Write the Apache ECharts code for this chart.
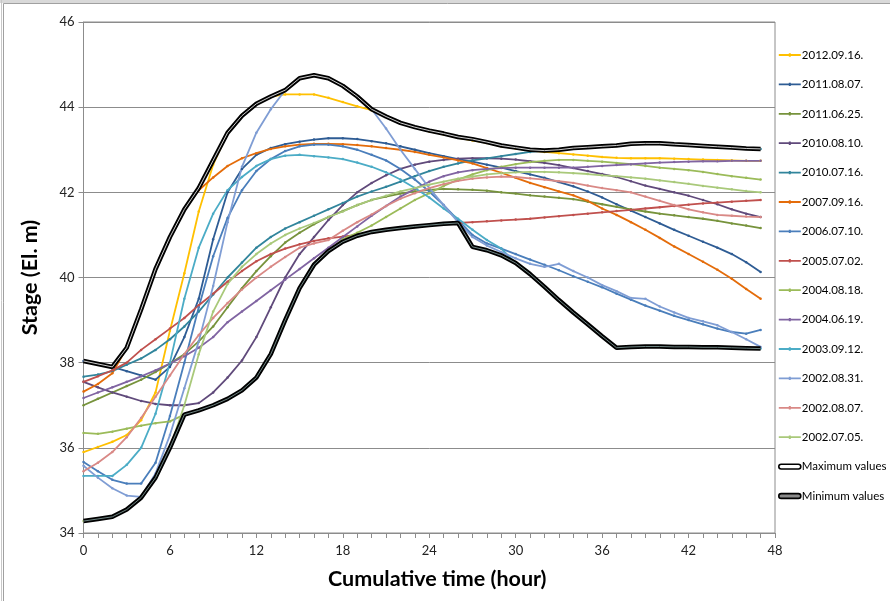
<!DOCTYPE html>
<html>
<head>
<meta charset="utf-8">
<script src="https://cdn.jsdelivr.net/npm/echarts@6/dist/echarts.min.js"></script>
<style>
  html, body { margin: 0; padding: 0; background: #fff; }
  #chart { width: 890px; height: 601px; }
</style>
</head>
<body>
<div id="chart"></div>
<script>
    // hours since start of each event
    const hours = [0, 1, 2, 3, 4, 5, 6, 7, 8, 9, 10, 11, 12, 13, 14, 15, 16, 17, 18, 19, 20, 21, 22, 23,
        24, 25, 26, 27, 28, 29, 30, 31, 32, 33, 34, 35, 36, 37, 38, 39, 40, 41, 42, 43, 44, 45, 46, 47];
    const xTicks = [0, 6, 12, 18, 24, 30, 36, 42, 48];
    const yTicks = [34, 36, 38, 40, 42, 44, 46];

    const names = ['2012.09.16.', '2011.08.07.', '2011.06.25.', '2010.08.10.', '2010.07.16.', '2007.09.16.',
        '2006.07.10.', '2005.07.02.', '2004.08.18.', '2004.06.19.', '2003.09.12.', '2002.08.31.',
        '2002.08.07.', '2002.07.05.'];
    const colors = ['#FFC000', '#2E5C94', '#77933C', '#604A7B', '#31859C', '#E46C0A',
        '#4A7EBB', '#C0504D', '#9BBB59', '#8064A2', '#4BACC6', '#7F9DD4',
        '#D98986', '#A9C97A'];

    const s20120916 = [35.9, 36.02, 36.14, 36.3, 36.65, 37.3, 38.75, 40.1, 41.55, 42.65, 43.4, 43.82, 44.08, 44.25, 44.3, 44.3,
        44.3, 44.22, 44.12, 44.02, 43.93, 43.78, 43.63, 43.53, 43.43, 43.36, 43.28, 43.22, 43.16, 43.08, 43.03, 42.98,
        42.95, 42.92, 42.89, 42.86, 42.83, 42.81, 42.8, 42.8, 42.8, 42.79, 42.78, 42.77, 42.76, 42.75, 42.74, 42.74];
    const s20110807 = [38.04, 37.97, 37.9, 37.8, 37.7, 37.6, 37.9, 38.6, 39.5, 40.9, 42.0, 42.55, 42.88, 43.04, 43.13, 43.19,
        43.24, 43.27, 43.27, 43.25, 43.2, 43.15, 43.08, 43.0, 42.92, 42.85, 42.78, 42.72, 42.65, 42.58, 42.5, 42.42,
        42.34, 42.24, 42.14, 42.02, 41.88, 41.72, 41.57, 41.42, 41.27, 41.12, 40.98, 40.84, 40.7, 40.55, 40.36, 40.13];
    const s20110625 = [37.0, 37.15, 37.3, 37.45, 37.6, 37.78, 37.98, 38.2, 38.5, 38.85, 39.3, 39.75, 40.15, 40.5, 40.82, 41.05,
        41.25, 41.42, 41.56, 41.7, 41.82, 41.9, 41.97, 42.02, 42.06, 42.08, 42.07, 42.06, 42.04, 42.0, 41.97, 41.93,
        41.9, 41.87, 41.84, 41.78, 41.72, 41.66, 41.6, 41.55, 41.5, 41.46, 41.42, 41.38, 41.33, 41.27, 41.22, 41.16];
    const s20100810 = [37.55, 37.42, 37.3, 37.2, 37.1, 37.03, 37.0, 37.0, 37.05, 37.3, 37.65, 38.05, 38.6, 39.3, 40.0, 40.55,
        40.95, 41.35, 41.7, 42.0, 42.22, 42.4, 42.55, 42.65, 42.72, 42.76, 42.79, 42.8, 42.8, 42.79, 42.77, 42.73,
        42.69, 42.64, 42.57, 42.5, 42.43, 42.36, 42.26, 42.16, 42.08, 42.0, 41.92, 41.82, 41.72, 41.6, 41.5, 41.42];
    const s20100716 = [37.67, 37.72, 37.8, 37.95, 38.1, 38.3, 38.55, 38.85, 39.2, 39.6, 40.0, 40.35, 40.7, 40.95, 41.15, 41.3,
        41.45, 41.6, 41.75, 41.9, 42.02, 42.13, 42.25, 42.38, 42.5, 42.6, 42.68, 42.75, 42.8, 42.85, 42.9, 42.95,
        42.98, 43.0, 43.04, 43.06, 43.08, 43.1, 43.14, 43.15, 43.15, 43.13, 43.11, 43.09, 43.07, 43.05, 43.03, 43.02];
    const s20070916 = [37.32, 37.5, 37.75, 38.35, 39.25, 40.2, 40.95, 41.6, 42.05, 42.35, 42.62, 42.8, 42.92, 43.02, 43.08, 43.12,
        43.14, 43.14, 43.13, 43.11, 43.08, 43.04, 43.0, 42.95, 42.88, 42.82, 42.75, 42.68, 42.57, 42.46, 42.34, 42.22,
        42.12, 42.02, 41.93, 41.8, 41.62, 41.47, 41.3, 41.12, 40.93, 40.73, 40.55, 40.37, 40.18, 39.97, 39.73, 39.5];
    const s20060710 = [35.67, 35.45, 35.25, 35.16, 35.16, 35.65, 36.75, 38.0, 39.3, 40.5, 41.4, 42.05, 42.5, 42.78, 42.97, 43.08,
        43.12, 43.12, 43.08, 43.0, 42.88, 42.75, 42.55, 42.3, 42.02, 41.7, 41.35, 41.0, 40.8, 40.68, 40.55, 40.42,
        40.3, 40.17, 40.03, 39.9, 39.77, 39.62, 39.48, 39.34, 39.22, 39.1, 39.0, 38.9, 38.8, 38.72, 38.68, 38.77];
    const s20050702 = [37.55, 37.68, 37.82, 38.0, 38.3, 38.55, 38.8, 39.05, 39.35, 39.62, 39.9, 40.15, 40.38, 40.55, 40.68, 40.78,
        40.86, 40.92, 40.96, 41.0, 41.07, 41.12, 41.16, 41.2, 41.23, 41.26, 41.28, 41.3, 41.32, 41.34, 41.36, 41.38,
        41.41, 41.44, 41.47, 41.5, 41.53, 41.56, 41.59, 41.62, 41.65, 41.68, 41.71, 41.74, 41.76, 41.78, 41.8, 41.82];
    const s20040818 = [36.35, 36.33, 36.38, 36.45, 36.52, 36.58, 36.62, 36.78, 36.88, 37.0, 37.15, 37.35, 37.65, 38.2, 39.0, 39.75,
        40.3, 40.62, 40.9, 41.05, 41.22, 41.42, 41.62, 41.82, 41.98, 42.15, 42.3, 42.42, 42.52, 42.6, 42.66, 42.71,
        42.74, 42.76, 42.76, 42.74, 42.72, 42.69, 42.66, 42.62, 42.58, 42.55, 42.52, 42.48, 42.43, 42.38, 42.34, 42.3];
    const s20040619 = [37.17, 37.3, 37.42, 37.55, 37.68, 37.82, 37.98, 38.15, 38.35, 38.6, 38.95, 39.2, 39.45, 39.7, 39.95, 40.2,
        40.45, 40.7, 40.95, 41.2, 41.45, 41.68, 41.9, 42.08, 42.25, 42.38, 42.47, 42.52, 42.55, 42.57, 42.58, 42.58,
        42.58, 42.58, 42.58, 42.6, 42.62, 42.64, 42.66, 42.68, 42.7, 42.71, 42.72, 42.73, 42.73, 42.74, 42.74, 42.74];
    const s20030912 = [35.34, 35.34, 35.34, 35.6, 36.0, 36.8, 38.0, 39.5, 40.7, 41.5, 42.05, 42.36, 42.62, 42.78, 42.86, 42.88,
        42.85, 42.82, 42.78, 42.7, 42.6, 42.47, 42.3, 42.1, 41.88, 41.62, 41.38, 41.12, 40.88, 40.68, 40.34, 40.08,
        39.78, 39.47, 39.18, 38.9, 38.62, 38.35, 38.37, 38.38, 38.38, 38.37, 38.37, 38.36, 38.36, 38.35, 38.34, 38.33];
    const s20020831 = [35.58, 35.3, 35.05, 34.88, 34.85, 35.4, 36.3, 37.4, 38.5, 39.8, 41.3, 42.6, 43.4, 43.95, 44.4, 44.68,
        44.75, 44.68, 44.5, 44.25, 43.95, 43.5, 43.0, 42.55, 42.1, 41.7, 41.3, 40.95, 40.75, 40.6, 40.45, 40.32,
        40.25, 40.32, 40.15, 40.0, 39.82, 39.68, 39.52, 39.5, 39.32, 39.18, 39.05, 38.97, 38.88, 38.72, 38.55, 38.37];
    const s20020807 = [35.45, 35.65, 35.9, 36.25, 36.7, 37.2, 37.7, 38.2, 38.65, 39.05, 39.4, 39.72, 40.0, 40.25, 40.48, 40.7,
        40.8, 40.88, 41.1, 41.3, 41.48, 41.68, 41.85, 41.98, 42.1, 42.19, 42.27, 42.32, 42.35, 42.37, 42.36, 42.33,
        42.3, 42.26, 42.22, 42.16, 42.1, 42.05, 42.0, 41.9, 41.8, 41.7, 41.6, 41.53, 41.47, 41.45, 41.43, 41.42];
    const s20020705 = [34.28, 34.33, 34.38, 34.55, 34.83, 35.3, 36.0, 37.0, 38.2, 39.2, 39.85, 40.25, 40.55, 40.8, 41.0, 41.15,
        41.28, 41.42, 41.55, 41.7, 41.82, 41.92, 42.02, 42.1, 42.18, 42.25, 42.32, 42.37, 42.42, 42.45, 42.47, 42.48,
        42.48, 42.47, 42.45, 42.43, 42.4, 42.38, 42.35, 42.32, 42.28, 42.24, 42.2, 42.15, 42.11, 42.07, 42.03, 42.0];
    const maxValues = [38.04, 37.97, 37.9, 38.35, 39.25, 40.2, 40.95, 41.6, 42.1, 42.75, 43.4, 43.8, 44.08, 44.25, 44.4, 44.68,
        44.75, 44.68, 44.5, 44.25, 43.95, 43.78, 43.63, 43.53, 43.45, 43.38, 43.3, 43.25, 43.18, 43.1, 43.05, 43.0,
        42.98, 43.0, 43.04, 43.06, 43.08, 43.1, 43.14, 43.15, 43.15, 43.13, 43.11, 43.09, 43.07, 43.05, 43.03, 43.02];
    const minValues = [34.28, 34.33, 34.38, 34.55, 34.83, 35.3, 36.0, 36.78, 36.88, 37.0, 37.15, 37.35, 37.65, 38.2, 39.0, 39.75,
        40.3, 40.62, 40.84, 40.98, 41.07, 41.12, 41.16, 41.2, 41.23, 41.26, 41.28, 40.72, 40.64, 40.52, 40.34, 40.08,
        39.78, 39.47, 39.18, 38.9, 38.62, 38.35, 38.37, 38.38, 38.38, 38.37, 38.37, 38.36, 38.36, 38.35, 38.34, 38.33];

    const events = [s20120916, s20110807, s20110625, s20100810, s20100716, s20070916, s20060710,
        s20050702, s20040818, s20040619, s20030912, s20020831, s20020807, s20020705];

    function pairs (values) {
        return hours.map((h, i) => [h, values[i]]);
    }

    const font = 'Lato, "Liberation Sans", sans-serif';

    const series = events.map((values, i) => ({
        name: names[i],
        type: 'line',
        data: pairs(values),
        symbol: 'circle',
        symbolSize: 2.5,
        itemStyle: { color: colors[i] },
        lineStyle: { color: colors[i], width: 1.8 },
        z: 2
    }));
    // envelopes: thick black line with a thin inner stroke (double line look)
    series.push({
        name: 'Maximum values', type: 'line', data: pairs(maxValues), symbol: 'none',
        itemStyle: { color: '#000' }, lineStyle: { color: '#000', width: 4.5 }, z: 3
    });
    series.push({
        name: 'max-inner', type: 'line', data: pairs(maxValues), symbol: 'none',
        lineStyle: { color: '#cfcfcf', width: 1 }, z: 4, silent: true
    });
    series.push({
        name: 'Minimum values', type: 'line', data: pairs(minValues), symbol: 'none',
        itemStyle: { color: '#000' }, lineStyle: { color: '#000', width: 4.5 }, z: 3
    });
    series.push({
        name: 'min-inner', type: 'line', data: pairs(minValues), symbol: 'none',
        lineStyle: { color: '#6f8583', width: 1 }, z: 4, silent: true
    });

    // short line with a tiny marker in the middle, like the spreadsheet legend
    const lineIcon = 'path://M0,1.6 H22 V3.4 H0 Z M10,0.8 H12 V4.2 H10 Z';
    const legendData = names.map(n => ({ name: n, icon: lineIcon }));
    legendData.push({
        name: 'Maximum values', icon: 'path://M2,0 H20 A2,2 0 0 1 20,5 H2 A2,2 0 0 1 2,0 Z',
        itemStyle: { color: '#fff', borderColor: '#000', borderWidth: 1.6 }
    });
    legendData.push({
        name: 'Minimum values', icon: 'path://M2,0 H20 A2,2 0 0 1 20,5 H2 A2,2 0 0 1 2,0 Z',
        itemStyle: { color: '#8a8a8a', borderColor: '#000', borderWidth: 1.6 }
    });

    const chart = echarts.init(document.getElementById('chart'));
    chart.setOption({
        animation: false,
        backgroundColor: '#fff',
        graphic: [
            { type: 'rect', shape: { x: 0, y: 0, width: 890, height: 3 }, style: { fill: '#d9d9d9' } },
            { type: 'rect', shape: { x: 3.5, y: 3.5, width: 900, height: 700 }, style: { fill: null, stroke: '#a0a0a0', lineWidth: 1 } },
            { type: 'line', shape: { x1: 1.5, y1: 0, x2: 1.5, y2: 601 }, style: { stroke: '#c8c8c8', lineWidth: 1 } }
        ],
        grid: {
            left: 83.5,
            right: 115,
            top: 22,
            bottom: 68,
            show: true,
            borderColor: '#8c8c8c',
            borderWidth: 1
        },
        legend: {
            orient: 'vertical',
            left: 778,
            top: 49,
            padding: 0,
            itemWidth: 22,
            itemHeight: 14,
            itemGap: 17.4,
            data: legendData,
            textStyle: { fontFamily: font, fontSize: 11.5, color: '#000', padding: [0, 0, 0, -4] }
        },
        xAxis: {
            type: 'value',
            min: xTicks[0],
            max: xTicks[xTicks.length - 1],
            interval: 6,
            name: 'Cumulative time (hour)',
            nameLocation: 'middle',
            nameGap: 35,
            nameTextStyle: { fontFamily: font, fontSize: 21.5, fontWeight: 'bold', color: '#000', padding: [0, 0, 0, 16] },
            axisLine: { lineStyle: { color: '#8c8c8c' } },
            axisTick: { show: true, length: 5, lineStyle: { color: '#8c8c8c' } },
            minorTick: { show: true, splitNumber: 6, length: 5, lineStyle: { color: '#8c8c8c' } },
            axisLabel: { fontFamily: font, fontSize: 13, color: '#222', margin: 11 },
            splitLine: { show: false }
        },
        yAxis: {
            type: 'value',
            min: yTicks[0],
            max: yTicks[yTicks.length - 1],
            interval: 2,
            name: 'Stage (El. m)',
            nameLocation: 'middle',
            nameGap: 42,
            nameTextStyle: { fontFamily: font, fontSize: 21.5, fontWeight: 'bold', color: '#000' },
            axisLine: { show: true, lineStyle: { color: '#8c8c8c' } },
            axisTick: { show: true, length: 5, lineStyle: { color: '#8c8c8c' } },
            axisLabel: { fontFamily: font, fontSize: 13, color: '#222', margin: 9 },
            splitLine: { show: true, lineStyle: { color: '#8c8c8c', width: 1 } }
        },
        series: series
    });
</script>
</body>
</html>
